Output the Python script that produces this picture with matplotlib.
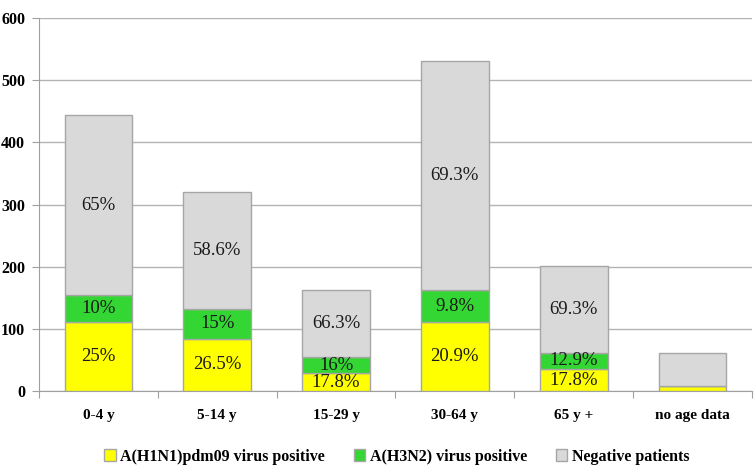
import matplotlib.pyplot as plt
import numpy as np

categories = ["0-4 y", "5-14 y", "15-29 y", "30-64 y", "65 y +", "no age data"]
h1n1 = [111, 85, 29, 111, 36, 9]
h3n2 = [44, 48, 26, 52, 26, 0]
negative = [289, 188, 108, 368, 140, 52]

h1n1_pct = ["25%", "26.5%", "17.8%", "20.9%", "17.8%", ""]
h3n2_pct = ["10%", "15%", "16%", "9.8%", "12.9%", ""]
neg_pct = ["65%", "58.6%", "66.3%", "69.3%", "69.3%", ""]

series_names = ["A(H1N1)pdm09 virus positive", "A(H3N2) virus positive", "Negative patients"]
colors = ["#ffff00", "#33d633", "#d9d9d9"]

plt.rcParams["font.family"] = ["Liberation Serif", "DejaVu Serif"]

fig = plt.figure(figsize=(7.56, 4.66), dpi=100)
ax = fig.add_axes([0.0516, 0.16, 0.943, 0.8014])

x = np.arange(len(categories))
width = 0.57
edge = "#a6a6a6"

bottom = np.zeros(len(categories))
for vals, pcts, color, name in zip([h1n1, h3n2, negative],
                                   [h1n1_pct, h3n2_pct, neg_pct],
                                   colors, series_names):
    vals = np.array(vals, dtype=float)
    ax.bar(x, vals, width, bottom=bottom, color=color, edgecolor=edge,
           linewidth=1.0, label=name, zorder=3)
    for xi, b, v, p in zip(x, bottom, vals, pcts):
        if p:
            ax.text(xi, b + v / 2, p, ha="center", va="center",
                    fontsize=13.5, color="#1a1a1a", zorder=4)
    bottom += vals

ax.set_xlim(-0.5, len(categories) - 0.5)
ax.set_ylim(0, 600)
ax.set_yticks(range(0, 601, 100))
ax.yaxis.grid(True, color="#b3b3b3", linewidth=1.0, zorder=0)
ax.set_axisbelow(True)

# category boundaries as major ticks, labels on minor ticks at bar centres
ax.set_xticks(np.arange(len(categories) + 1) - 0.5, minor=False)
ax.set_xticklabels([])
ax.set_xticks(x, minor=True)
ax.set_xticklabels(categories, minor=True, fontweight="bold", fontsize=11)
ax.tick_params(axis="x", which="minor", length=0, pad=13)
ax.tick_params(axis="x", which="major", length=5, color="#a0a0a0", direction="out")
ax.tick_params(axis="y", length=5, color="#a0a0a0", labelsize=11.5, pad=5)
for lbl in ax.get_yticklabels():
    lbl.set_fontweight("bold")

for side in ["top", "right"]:
    ax.spines[side].set_visible(False)
for side in ["left", "bottom"]:
    ax.spines[side].set_color("#a0a0a0")

fig.legend(loc="center", bbox_to_anchor=(0.525, 0.02), ncol=3,
           frameon=False, handlelength=0.7, handleheight=0.7,
           handletextpad=0.3, columnspacing=1.8,
           prop={"weight": "bold", "size": 11.5})

fig.savefig("out.png", dpi=100)
